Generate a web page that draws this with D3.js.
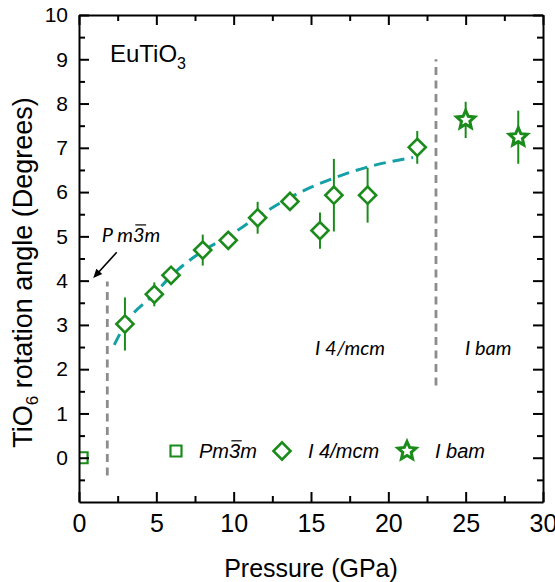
<!DOCTYPE html>
<html>
<head>
<meta charset="utf-8">
<script src="https://cdn.jsdelivr.net/npm/d3@7"></script>
<style>
  html, body { margin: 0; padding: 0; background: #fff; }
  svg { display: block; }
</style>
</head>
<body>
<svg id="chart" width="555" height="582"></svg>
<script>
// TiO6 octahedral rotation angle of EuTiO3 versus pressure, per structural phase
const cubicP = [0.2];
const cubicAngle = [0];

const tetraP     = [2.97, 4.87, 5.95, 8.0, 9.65, 11.55, 13.64, 15.58, 16.48, 18.66, 21.87];
const tetraAngle = [3.02, 3.69, 4.12, 4.69, 4.91, 5.42, 5.79, 5.13, 5.93, 5.93, 7.01];
const tetraErr   = [0.60, 0.27, 0.15, 0.35, 0.15, 0.36, 0.15, 0.41, 0.82, 0.62, 0.37];

const orthoP     = [25.0, 28.4];
const orthoAngle = [7.63, 7.24];
const orthoErr   = [0.41, 0.60];

// Guide curve through the I4/mcm data
const fitP     = [2.28, 3.0, 4.87, 6.0, 8.0, 9.65, 11.55, 13.6, 16.5, 18.7, 21.6];
const fitAngle = [2.55, 3.02, 3.70, 4.12, 4.67, 5.0, 5.44, 5.87, 6.32, 6.57, 6.78];

// Phase boundaries (vertical dashed lines)
const boundaryP    = [1.83, 23.08];
const boundaryLow  = [-0.4, 1.63];
const boundaryHigh = [3.98, 9.0];

const xTicks = [0, 5, 10, 15, 20, 25, 30];
const xMinor = [2.5, 7.5, 12.5, 17.5, 22.5, 27.5];
const yTicks = [0, 1, 2, 3, 4, 5, 6, 7, 8, 9, 10];
const yMinor = [-0.5, 0.5, 1.5, 2.5, 3.5, 4.5, 5.5, 6.5, 7.5, 8.5, 9.5];

const W = 555, H = 582;
const margin = { top: 15, right: 12, bottom: 80, left: 79 };
const iw = W - margin.left - margin.right;
const ih = H - margin.top - margin.bottom;

const green = "#1b8c1b";
const teal = "#15a0a5";
const grey = "#8c8c8c";
const sans = "'Liberation Sans', Arial, Helvetica, sans-serif";
const italicFace = "Lato, 'Open Sans', sans-serif";

const svg = d3.select("#chart");
const g = svg.append("g").attr("transform", `translate(${margin.left},${margin.top})`);

const x = d3.scaleLinear().domain([0, 30]).range([0, iw]);
const y = d3.scaleLinear().domain([-1, 10]).range([ih, 0]);

svg.append("defs").append("clipPath").attr("id", "plot-clip")
  .append("rect").attr("width", iw).attr("height", ih);

const plot = g.append("g").attr("clip-path", "url(#plot-clip)");

// phase boundaries
plot.selectAll("line.boundary").data(boundaryP).join("line")
  .attr("class", "boundary")
  .attr("x1", d => x(d)).attr("x2", d => x(d))
  .attr("y1", (d, i) => y(boundaryLow[i])).attr("y2", (d, i) => y(boundaryHigh[i]))
  .attr("stroke", grey).attr("stroke-width", 2.8).attr("stroke-dasharray", "8,5.5");

// guide curve
const fitData = fitP.map((p, i) => [p, fitAngle[i]]);
plot.append("path").datum(fitData)
  .attr("d", d3.line().x(d => x(d[0])).y(d => y(d[1])).curve(d3.curveMonotoneX))
  .attr("fill", "none").attr("stroke", teal).attr("stroke-width", 3)
  .attr("stroke-dasharray", "12,7");

// error bars
const tetra = tetraP.map((p, i) => ({ p, a: tetraAngle[i], e: tetraErr[i] }));
const ortho = orthoP.map((p, i) => ({ p, a: orthoAngle[i], e: orthoErr[i] }));
const cubic = cubicP.map((p, i) => ({ p, a: cubicAngle[i] }));

plot.selectAll("line.err").data(tetra.concat(ortho)).join("line")
  .attr("class", "err")
  .attr("x1", d => x(d.p)).attr("x2", d => x(d.p))
  .attr("y1", d => y(d.a - d.e)).attr("y2", d => y(d.a + d.e))
  .attr("stroke", green).attr("stroke-width", 2);

// marker shapes
const diamondPath = d3.symbol(d3.symbolSquare, 146)();
const squarePath = d3.symbol(d3.symbolSquare, 121)();
function starPath(R, r) {
  const pts = [];
  for (let k = 0; k < 10; k++) {
    const rad = k % 2 === 0 ? R : r;
    const ang = -Math.PI / 2 + k * Math.PI / 5;
    pts.push([rad * Math.cos(ang), rad * Math.sin(ang)]);
  }
  return d3.line()(pts) + "Z";
}
const star = starPath(9.5, 4.4);

plot.selectAll("path.cubic").data(cubic).join("path")
  .attr("class", "cubic")
  .attr("d", squarePath)
  .attr("transform", d => `translate(${x(d.p)},${y(d.a)})`)
  .attr("fill", "#fff").attr("stroke", green).attr("stroke-width", 2.2);

plot.selectAll("path.tetra").data(tetra).join("path")
  .attr("class", "tetra")
  .attr("d", diamondPath)
  .attr("transform", d => `translate(${x(d.p)},${y(d.a)}) rotate(45)`)
  .attr("fill", "#fff").attr("stroke", green).attr("stroke-width", 2.6);

plot.selectAll("path.ortho").data(ortho).join("path")
  .attr("class", "ortho")
  .attr("d", star)
  .attr("transform", d => `translate(${x(d.p)},${y(d.a)})`)
  .attr("fill", "#fff").attr("stroke", green).attr("stroke-width", 3)
  .attr("stroke-linejoin", "miter");

// axes: ticks point inward on all four sides
function styleAxis(sel) {
  sel.select(".domain").attr("stroke", "#000").attr("stroke-width", 2);
  sel.selectAll(".tick line").attr("stroke", "#000").attr("stroke-width", 2);
}

const xAxis = g.append("g").attr("transform", `translate(0,${ih})`)
  .call(d3.axisBottom(x).tickValues(xTicks).tickFormat(d3.format("d"))
    .tickSizeInner(-10).tickSizeOuter(0).tickPadding(12));
xAxis.selectAll("text").attr("font-family", sans).attr("font-size", 25).attr("fill", "#000");
styleAxis(xAxis);
g.append("g").attr("transform", `translate(0,${ih})`)
  .call(d3.axisBottom(x).tickValues(xMinor).tickFormat("").tickSizeInner(-6).tickSizeOuter(0))
  .call(s => { s.select(".domain").remove(); styleAxis(s); });

const xTop = g.append("g")
  .call(d3.axisTop(x).tickValues(xTicks).tickFormat("").tickSizeInner(-10).tickSizeOuter(0));
styleAxis(xTop);
g.append("g")
  .call(d3.axisTop(x).tickValues(xMinor).tickFormat("").tickSizeInner(-6).tickSizeOuter(0))
  .call(s => { s.select(".domain").remove(); styleAxis(s); });

const yAxis = g.append("g")
  .call(d3.axisLeft(y).tickValues(yTicks).tickFormat(d3.format("d"))
    .tickSizeInner(-10).tickSizeOuter(0).tickPadding(11));
yAxis.selectAll("text").attr("font-family", sans).attr("font-size", 21).attr("fill", "#000");
styleAxis(yAxis);
g.append("g")
  .call(d3.axisLeft(y).tickValues(yMinor).tickFormat("").tickSizeInner(-6).tickSizeOuter(0))
  .call(s => { s.select(".domain").remove(); styleAxis(s); });

const yRight = g.append("g").attr("transform", `translate(${iw},0)`)
  .call(d3.axisRight(y).tickValues(yTicks).tickFormat("").tickSizeInner(-10).tickSizeOuter(0));
styleAxis(yRight);
g.append("g").attr("transform", `translate(${iw},0)`)
  .call(d3.axisRight(y).tickValues(yMinor).tickFormat("").tickSizeInner(-6).tickSizeOuter(0))
  .call(s => { s.select(".domain").remove(); styleAxis(s); });

// axis titles
svg.append("text")
  .attr("x", margin.left + iw / 2).attr("y", 577)
  .attr("text-anchor", "middle")
  .attr("font-family", sans).attr("font-size", 25).attr("fill", "#000")
  .text("Pressure (GPa)");

const yTitle = svg.append("text")
  .attr("transform", `translate(32,${margin.top + ih / 2 + 14}) rotate(-90)`)
  .attr("text-anchor", "middle")
  .attr("font-family", sans).attr("font-size", 27).attr("fill", "#000");
yTitle.append("tspan").text("TiO");
yTitle.append("tspan").attr("font-size", 17).attr("dy", 6).text("6");
yTitle.append("tspan").attr("dy", -6).text(" rotation angle (Degrees)");

// compound label
const comp = g.append("text")
  .attr("x", x(2.0)).attr("y", y(8.93))
  .attr("font-family", sans).attr("font-size", 24).attr("fill", "#000");
comp.append("tspan").text("EuTiO");
comp.append("tspan").attr("font-size", 16).attr("dy", 7).text("3");

// space-group text with a bar over the "3"
function spaceGroup(parent, xPos, yPos, parts, font, size) {
  const t = parent.append("text")
    .attr("x", xPos).attr("y", yPos)
    .attr("font-family", font).attr("font-size", size)
    .attr("font-style", "italic").attr("fill", "#000");
  let idx = 0, barIdx = -1;
  parts.forEach(pt => {
    if (pt.bar) barIdx = idx;
    idx += pt.s.length;
    t.append("tspan").text(pt.s);
  });
  if (barIdx >= 0) {
    const node = t.node();
    const a = node.getStartPositionOfChar(barIdx);
    const b = node.getEndPositionOfChar(barIdx);
    parent.append("line")
      .attr("x1", a.x + size * 0.12).attr("x2", b.x + size * 0.08)
      .attr("y1", yPos - size * 0.86).attr("y2", yPos - size * 0.86)
      .attr("stroke", "#000").attr("stroke-width", 1.2);
  }
  return t;
}

spaceGroup(g, x(1.47), y(4.87), [{ s: "P m" }, { s: "3", bar: true }, { s: "m" }], italicFace, 20);
spaceGroup(g, x(15.26), y(2.31), [{ s: "I 4/mcm" }], italicFace, 20);
spaceGroup(g, x(24.95), y(2.31), [{ s: "I bam" }], italicFace, 20);

// arrow pointing to the cubic phase
const arrowFrom = [2.44, 4.64], arrowTo = [0.92, 4.06];
const ax1 = x(arrowFrom[0]), ay1 = y(arrowFrom[1]), ax2 = x(arrowTo[0]), ay2 = y(arrowTo[1]);
const ang = Math.atan2(ay2 - ay1, ax2 - ax1);
const headLen = 9, headW = 4;
g.append("line")
  .attr("x1", ax1).attr("y1", ay1)
  .attr("x2", ax2 - Math.cos(ang) * headLen * 0.8).attr("y2", ay2 - Math.sin(ang) * headLen * 0.8)
  .attr("stroke", "#000").attr("stroke-width", 1.6);
const bx = ax2 - Math.cos(ang) * headLen, by = ay2 - Math.sin(ang) * headLen;
g.append("path")
  .attr("d", `M${ax2},${ay2}L${bx + Math.sin(ang) * headW},${by - Math.cos(ang) * headW}L${bx - Math.sin(ang) * headW},${by + Math.cos(ang) * headW}Z`)
  .attr("fill", "#000");

// legend
const legendY = 451 - margin.top;
const leg = g.append("g");
leg.append("path").attr("d", squarePath)
  .attr("transform", `translate(${176 - margin.left},${legendY})`)
  .attr("fill", "#fff").attr("stroke", green).attr("stroke-width", 2.2);
spaceGroup(leg, 199 - margin.left, legendY + 7, [{ s: "Pm" }, { s: "3", bar: true }, { s: "m" }], sans, 20);
leg.append("path").attr("d", diamondPath)
  .attr("transform", `translate(${282 - margin.left},${legendY}) rotate(45)`)
  .attr("fill", "#fff").attr("stroke", green).attr("stroke-width", 2.6);
spaceGroup(leg, 308 - margin.left, legendY + 7, [{ s: "I 4/mcm" }], sans, 20);
leg.append("path").attr("d", star)
  .attr("transform", `translate(${407 - margin.left},${legendY})`)
  .attr("fill", "#fff").attr("stroke", green).attr("stroke-width", 3);
spaceGroup(leg, 435 - margin.left, legendY + 7, [{ s: "I bam" }], sans, 20);
</script>
</body>
</html>
